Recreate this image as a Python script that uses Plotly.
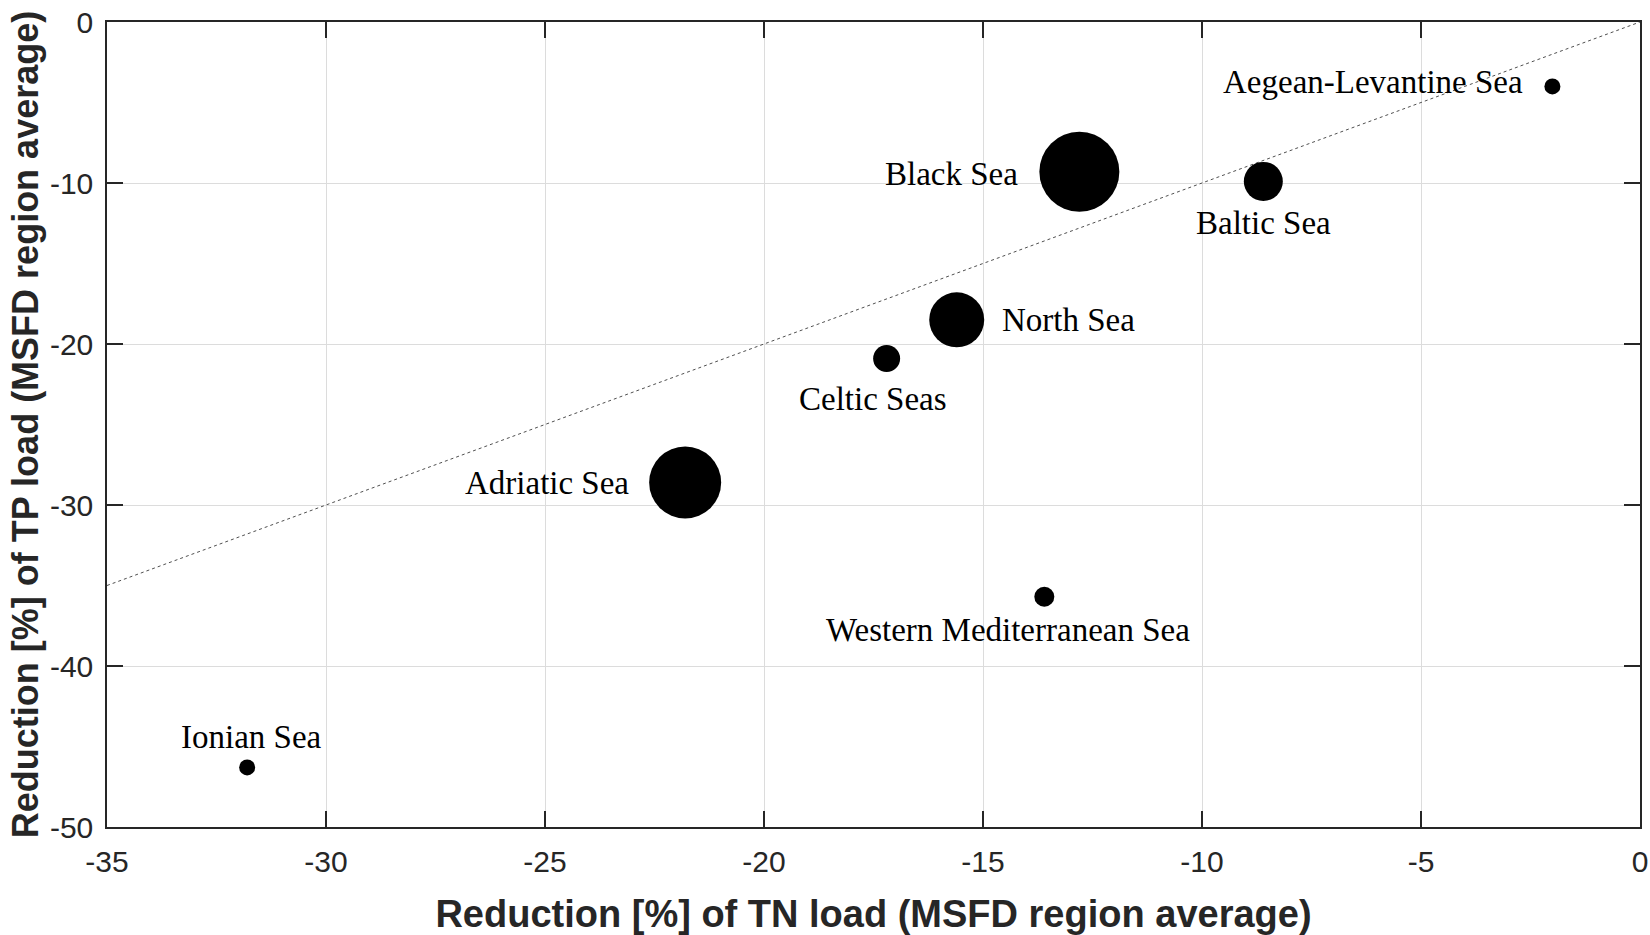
import plotly.graph_objects as go

# MSFD regions: reduction of TN load (x) vs reduction of TP load (y), bubble ~ region weight
regions = ["Aegean-Levantine Sea", "Black Sea", "Baltic Sea", "North Sea",
           "Celtic Seas", "Adriatic Sea", "Western Mediterranean Sea", "Ionian Sea"]
tn_reduction = [-2.0, -12.8, -8.6, -15.6, -17.2, -21.8, -13.6, -31.8]
tp_reduction = [-4.0, -9.3, -9.9, -18.5, -20.9, -28.6, -35.7, -46.3]
bubble_size = [16, 80, 39, 55, 27, 72, 20, 16]

x_ticks = [-35, -30, -25, -20, -15, -10, -5, 0]
x_tick_labels = ["-35", "-30", "-25", "-20", "-15", "-10", "-5", "0"]
y_ticks = [-50, -40, -30, -20, -10, 0]
y_tick_labels = ["-50", "-40", "-30", "-20", "-10", "0"]
one_to_one = [-35, 0]

# label placement relative to each bubble: (xanchor, yanchor, xshift, yshift)
label_pos = {
    "Aegean-Levantine Sea": ("right", "middle", -27, 4),
    "Black Sea": ("right", "middle", -59, -2),
    "Baltic Sea": ("center", "middle", 0, -42),
    "North Sea": ("left", "middle", 43, 0),
    "Celtic Seas": ("center", "middle", -14, -41),
    "Adriatic Sea": ("right", "middle", -54, -1),
    "Western Mediterranean Sea": ("center", "middle", -36, -33),
    "Ionian Sea": ("center", "middle", 4, 30),
}

ax_col = "#262626"

fig = go.Figure()

fig.add_trace(go.Scatter(
    x=one_to_one, y=one_to_one, mode="lines",
    line=dict(color="#505050", width=1, dash="dot"),
    showlegend=False, hoverinfo="skip"
))

fig.add_trace(go.Scatter(
    x=tn_reduction, y=tp_reduction, mode="markers",
    marker=dict(size=bubble_size, color="black", opacity=1, line=dict(width=0)),
    text=regions, showlegend=False,
    hovertemplate="%{text}<br>TN %{x}%<br>TP %{y}%<extra></extra>"
))

for name, xv, yv in zip(regions, tn_reduction, tp_reduction):
    xa, ya, dx, dy = label_pos[name]
    fig.add_annotation(
        x=xv, y=yv, text=name, showarrow=False,
        xanchor=xa, yanchor=ya, xshift=dx, yshift=dy,
        font=dict(family="Liberation Serif", size=33, color="black")
    )

axis_common = dict(
    showline=True, linecolor=ax_col, linewidth=1.5, mirror="ticks",
    ticks="inside", ticklen=16, tickwidth=1.5, tickcolor=ax_col,
    showgrid=True, gridcolor="#dcdcdc", gridwidth=1, zeroline=False,
    tickfont=dict(family="Liberation Sans", size=30, color=ax_col),
    automargin=False,
)

fig.update_layout(
    width=1650, height=935,
    margin=dict(l=107, r=10, t=22, b=108),
    plot_bgcolor="white", paper_bgcolor="white",
    xaxis=dict(range=[-35, 0], tickvals=x_ticks, ticktext=x_tick_labels,
               ticklabelstandoff=7,
               title=dict(text="Reduction [%] of TN load (MSFD region average)",
                          font=dict(family="Liberation Sans", size=38, color=ax_col, weight="bold"),
                          standoff=40),
               **axis_common),
    yaxis=dict(range=[-50, 0], tickvals=y_ticks, ticktext=y_tick_labels,
               ticklabelstandoff=6,
               title=dict(text="Reduction [%] of TP load (MSFD region average)",
                          font=dict(family="Liberation Sans", size=36, color=ax_col, weight="bold"),
                          standoff=0),
               **axis_common),
)

fig.write_html("out.html", config={"displayModeBar": False},
               post_script="document.body.style.margin='0px';")
